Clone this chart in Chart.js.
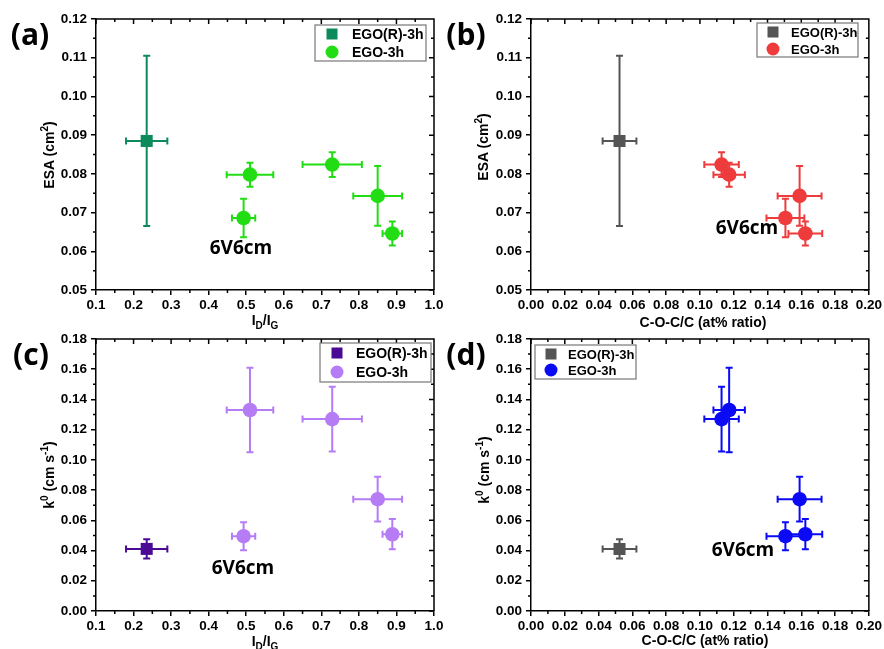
<!DOCTYPE html>
<html>
<head>
<meta charset="utf-8">
<script src="https://cdn.jsdelivr.net/npm/chart.js@4.4.1/dist/chart.umd.min.js"></script>
<style>
  body { margin: 0; background: #fff; width: 884px; height: 649px; overflow: hidden; position: relative;
         font-family: "Liberation Sans", Arial, sans-serif; }
  canvas { position: absolute; }
  .lbl { position: absolute; font-weight: bold; white-space: nowrap; color: #000; line-height: 1; }
  .tag { font-family: "Open Sans", sans-serif; font-size: 30px; transform: translate(-50%, -50%); }
  .note { font-family: "Open Sans", sans-serif; font-size: 19px; transform: translate(-50%, -50%); }
  .ax { font-size: 14px; transform: translate(-50%, -50%); }
  .ay { font-size: 14px; transform: translate(-50%, -50%) rotate(-90deg); }
  sub { font-size: 10px; vertical-align: -4px; }
  sup { font-size: 10px; vertical-align: 6px; }
</style>
</head>
<body>
<canvas id="chartA" width="450" height="330" style="left:0;top:0"></canvas>
<canvas id="chartB" width="444" height="330" style="left:440px;top:0"></canvas>
<canvas id="chartC" width="450" height="329" style="left:0;top:320px"></canvas>
<canvas id="chartD" width="444" height="329" style="left:440px;top:320px"></canvas>

<div class="lbl tag" style="left:30px;top:34px">(a)</div>
<div class="lbl tag" style="left:466px;top:34px">(b)</div>
<div class="lbl tag" style="left:31px;top:354px">(c)</div>
<div class="lbl tag" style="left:466px;top:354px">(d)</div>

<div class="lbl note" style="left:241px;top:247px">6V6cm</div>
<div class="lbl note" style="left:747px;top:227px">6V6cm</div>
<div class="lbl note" style="left:243px;top:567px">6V6cm</div>
<div class="lbl note" style="left:743px;top:549px">6V6cm</div>

<div class="lbl ax" style="left:265px;top:322px">I<sub>D</sub>/I<sub>G</sub></div>
<div class="lbl ay" style="left:48px;top:155px">ESA (cm<sup>2</sup>)</div>
<div class="lbl ax" style="left:703px;top:322px">C-O-C/C (at% ratio)</div>
<div class="lbl ay" style="left:482px;top:147px">ESA (cm<sup>2</sup>)</div>
<div class="lbl ax" style="left:265px;top:643px">I<sub>D</sub>/I<sub>G</sub></div>
<div class="lbl ay" style="left:48px;top:475px">k<sup>0</sup> (cm s<sup>-1</sup>)</div>
<div class="lbl ax" style="left:705px;top:640px">C-O-C/C (at% ratio)</div>
<div class="lbl ay" style="left:483px;top:470px">k<sup>0</sup> (cm s<sup>-1</sup>)</div>

<script>
// series names
const samples = ["EGO(R)-3h", "EGO-3h"];

// reference sample EGO(R)-3h
const refIdIg = [0.235], refIdIgErr = [0.055];
const refCoc = [0.0524], refCocErr = [0.010];
const refEsa = [0.0885], refEsaErr = [0.022];
const refK0 = [0.0411], refK0Err = [0.0064];

// EGO-3h samples (same order in every panel)
const idIg = [0.510, 0.493, 0.729, 0.850, 0.889];
const idIgErr = [0.062, 0.031, 0.079, 0.065, 0.026];
const coc = [0.1173, 0.1506, 0.1128, 0.159, 0.1624];
const cocErr = [0.0093, 0.0112, 0.0102, 0.013, 0.010];
const esa = [0.0798, 0.0686, 0.0824, 0.0743, 0.0646];
const esaErr = [0.0031, 0.0050, 0.0032, 0.0077, 0.0031];
const k0 = [0.133, 0.0495, 0.127, 0.074, 0.0508];
const k0Err = [0.028, 0.0093, 0.0214, 0.0148, 0.010];

// axis ranges: min, max, step, decimals
const idIgAxis = [0.1, 1.0, 0.1, 1];
const cocAxis = [0.0, 0.2, 0.02, 2];
const esaAxis = [0.05, 0.12, 0.01, 2];
const k0Axis = [0.0, 0.18, 0.02, 2];

const tickFont = { family: "'Liberation Sans', Arial, sans-serif", size: 13.5, weight: "bold" };

// error bars, drawn under the markers
const errorBars = {
  id: "errorBars",
  beforeDatasetsDraw(chart) {
    const c = chart.ctx, xs = chart.scales.x, ys = chart.scales.y;
    const cap = 3.5;
    chart.data.datasets.forEach(ds => {
      c.save();
      c.strokeStyle = ds.borderColor;
      c.lineWidth = 2;
      ds.data.forEach((p, i) => {
        const px = xs.getPixelForValue(p.x), py = ys.getPixelForValue(p.y);
        const x1 = xs.getPixelForValue(p.x - ds.xErr[i]), x2 = xs.getPixelForValue(p.x + ds.xErr[i]);
        const y1 = ys.getPixelForValue(p.y - ds.yErr[i]), y2 = ys.getPixelForValue(p.y + ds.yErr[i]);
        c.beginPath();
        c.moveTo(x1, py); c.lineTo(x2, py);
        c.moveTo(x1, py - cap); c.lineTo(x1, py + cap);
        c.moveTo(x2, py - cap); c.lineTo(x2, py + cap);
        c.moveTo(px, y1); c.lineTo(px, y2);
        c.moveTo(px - cap, y1); c.lineTo(px + cap, y1);
        c.moveTo(px - cap, y2); c.lineTo(px + cap, y2);
        c.stroke();
      });
      c.restore();
    });
  }
};

// box frame, mirrored ticks, minor ticks and the boxed legend
const frame = {
  id: "frame",
  afterDraw(chart, args, opts) {
    const c = chart.ctx, a = chart.chartArea, xs = chart.scales.x, ys = chart.scales.y;
    c.save();
    c.strokeStyle = "#000";
    c.lineWidth = 1.5;
    c.beginPath();
    c.moveTo(a.left, a.top); c.lineTo(a.right, a.top); c.lineTo(a.right, a.bottom);
    const xt = xs.ticks.map(t => t.value), yt = ys.ticks.map(t => t.value);
    xt.forEach((v, i) => {
      const px = xs.getPixelForValue(v);
      c.moveTo(px, a.top); c.lineTo(px, a.top + 5);
      if (i < xt.length - 1) {
        const mx = xs.getPixelForValue((v + xt[i + 1]) / 2);
        c.moveTo(mx, a.top); c.lineTo(mx, a.top + 3);
        c.moveTo(mx, a.bottom); c.lineTo(mx, a.bottom + 3);
      }
    });
    yt.forEach((v, i) => {
      const py = ys.getPixelForValue(v);
      c.moveTo(a.right, py); c.lineTo(a.right - 5, py);
      if (i < yt.length - 1) {
        const my = ys.getPixelForValue((v + yt[i + 1]) / 2);
        c.moveTo(a.right, my); c.lineTo(a.right - 3, my);
        c.moveTo(a.left, my); c.lineTo(a.left - 3, my);
      }
    });
    c.stroke();

    // legend: box x, y, w, h, marker x, row 1 y, row 2 y, text x, font size
    const L = opts.box;
    if (L) {
      c.fillStyle = "#fff";
      c.fillRect(L[0], L[1], L[2], L[3]);
      c.strokeStyle = "#777";
      c.lineWidth = 1.2;
      c.strokeRect(L[0], L[1], L[2], L[3]);
      c.font = "bold " + L[8] + "px 'Liberation Sans', Arial, sans-serif";
      c.textBaseline = "middle";
      chart.data.datasets.forEach((ds, i) => {
        const ry = L[5 + i];
        c.fillStyle = ds.backgroundColor;
        if (ds.pointStyle === "rect") {
          c.fillRect(L[4] - 5.5, ry - 5.5, 11, 11);
        } else {
          c.beginPath(); c.arc(L[4], ry, 6.5, 0, Math.PI * 2); c.fill();
        }
        c.fillStyle = "#000";
        c.fillText(ds.label, L[7], ry + 1);
      });
    }
    c.restore();
  }
};

function axisOpts(range, which, size) {
  return {
    type: "linear",
    min: range[0], max: range[1],
    ticks: {
      stepSize: range[2], font: tickFont, color: "#000",
      padding: which === "x" ? 2 : 4, autoSkip: false, maxRotation: 0,
      callback: v => v.toFixed(range[3])
    },
    grid: { display: true, drawOnChartArea: false, drawTicks: true, tickLength: 5, color: "#000", lineWidth: 1.5 },
    border: { display: true, color: "#000", width: 1.5 },
    afterFit: s => { if (which === "x") s.height = size; else s.width = size; }
  };
}

function makePanel(id, p) {
  const pts = (xs, ys) => xs.map((x, i) => ({ x: x, y: ys[i] }));
  new Chart(document.getElementById(id), {
    type: "scatter",
    data: {
      datasets: [
        { label: samples[0], data: pts(p.refX, p.refY), xErr: p.refXErr, yErr: p.refYErr,
          pointStyle: "rect", pointRadius: 8.5, pointHoverRadius: 8.5, borderWidth: 0,
          backgroundColor: p.colors[0], borderColor: p.colors[0] },
        { label: samples[1], data: pts(p.x, p.y), xErr: p.xErr, yErr: p.yErr,
          pointStyle: "circle", pointRadius: 7.3, pointHoverRadius: 7.3, borderWidth: 0,
          backgroundColor: p.colors[1], borderColor: p.colors[1] }
      ]
    },
    options: {
      responsive: false,
      animation: false,
      events: [],
      layout: { padding: p.pad },
      plugins: { legend: { display: false }, tooltip: { enabled: false }, frame: { box: p.legend } },
      scales: {
        x: axisOpts(p.xAxis, "x", 30),
        y: axisOpts(p.yAxis, "y", p.yWidth)
      }
    },
    plugins: [errorBars, frame]
  });
}

makePanel("chartA", {
  refX: refIdIg, refXErr: refIdIgErr, refY: refEsa, refYErr: refEsaErr,
  x: idIg, xErr: idIgErr, y: esa, yErr: esaErr,
  xAxis: idIgAxis, yAxis: esaAxis, colors: ["#0c8a5c", "#22dd14"],
  pad: { left: 0, right: 16, top: 19, bottom: 10 }, yWidth: 96,
  legend: [315, 25, 111, 36, 332, 34, 52, 352, 14]
});
makePanel("chartB", {
  refX: refCoc, refXErr: refCocErr, refY: refEsa, refYErr: refEsaErr,
  x: coc, xErr: cocErr, y: esa, yErr: esaErr,
  xAxis: cocAxis, yAxis: esaAxis, colors: ["#555555", "#ee3b3b"],
  pad: { left: 0, right: 15, top: 19, bottom: 10 }, yWidth: 91,
  legend: [317, 23, 101, 34, 333, 32, 49, 351, 13]
});
makePanel("chartC", {
  refX: refIdIg, refXErr: refIdIgErr, refY: refK0, refYErr: refK0Err,
  x: idIg, xErr: idIgErr, y: k0, yErr: k0Err,
  xAxis: idIgAxis, yAxis: k0Axis, colors: ["#4a0a94", "#b57cf5"],
  pad: { left: 0, right: 16, top: 19, bottom: 8 }, yWidth: 96,
  legend: [320, 23, 111, 39, 337, 33, 52, 356, 14]
});
makePanel("chartD", {
  refX: refCoc, refXErr: refCocErr, refY: refK0, refYErr: refK0Err,
  x: coc, xErr: cocErr, y: k0, yErr: k0Err,
  xAxis: cocAxis, yAxis: k0Axis, colors: ["#555555", "#0a0af5"],
  pad: { left: 0, right: 15, top: 19, bottom: 8 }, yWidth: 91,
  legend: [95, 25, 101, 34, 111, 34, 50, 128, 13]
});
</script>
</body>
</html>
